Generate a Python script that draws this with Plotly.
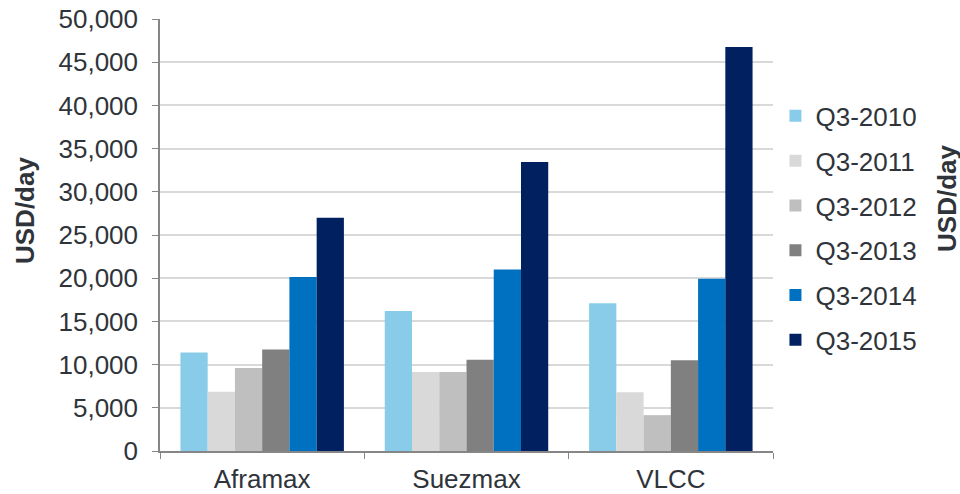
import plotly.graph_objects as go

categories = ["Aframax", "Suezmax", "VLCC"]
series_names = ["Q3-2010", "Q3-2011", "Q3-2012", "Q3-2013", "Q3-2014", "Q3-2015"]
q3_2010 = [11400, 16200, 17100]
q3_2011 = [6850, 9150, 6800]
q3_2012 = [9600, 9150, 4150]
q3_2013 = [11750, 10550, 10500]
q3_2014 = [20150, 21000, 19950]
q3_2015 = [27000, 33450, 46750]
values = [q3_2010, q3_2011, q3_2012, q3_2013, q3_2014, q3_2015]
colors = ["#89CCE9", "#D9D9D9", "#BFBFBF", "#808080", "#0070C0", "#002060"]
tick_vals = list(range(0, 50001, 5000))

font = "Liberation Sans, Arial, sans-serif"
txt = "#2F343A"

fig = go.Figure()
for i, (name, vals, c) in enumerate(zip(series_names, values, colors)):
    fig.add_trace(go.Bar(x=categories, y=vals, name=name, marker_color=c,
                         marker_line_width=0, legendgroup=f"g{i}"))

fig.update_layout(
    width=960, height=494,
    margin=dict(l=160, r=187, t=19, b=43, autoexpand=False),
    paper_bgcolor="white", plot_bgcolor="white",
    barmode="group", bargap=0.2, bargroupgap=0,
    font=dict(family=font, size=26, color=txt),
    legend=dict(x=1.004, y=0.83, xanchor="left", yanchor="top",
                font=dict(size=26, color=txt), traceorder="grouped",
                tracegroupgap=8, itemwidth=30),
    showlegend=True,
)
fig.update_xaxes(
    showline=True, linecolor="#868686", linewidth=1.5,
    ticks="outside", tickson="boundaries", ticklen=6, tickcolor="#868686",
    tickfont=dict(size=26, color=txt), showgrid=False, ticklabelstandoff=4,
)
fig.update_yaxes(
    range=[0, 50000], tickvals=tick_vals, tickformat=",",
    showline=True, linecolor="#868686", linewidth=1.5,
    ticks="outside", ticklen=6, tickcolor="#868686",
    showgrid=True, gridcolor="#D9D9D9", gridwidth=1.5,
    tickfont=dict(size=26, color=txt), ticklabelstandoff=9,
    ticklabeloverflow="allow",
)
fig.add_annotation(text="<b>USD/day</b>", xref="paper", yref="paper",
                   x=-0.2202, y=0.5556, textangle=-90, showarrow=False,
                   font=dict(size=26, color=txt), xanchor="center", yanchor="middle")
fig.add_annotation(text="<b>USD/day</b>", xref="paper", yref="paper",
                   x=1.2838, y=0.5856, textangle=-90, showarrow=False,
                   font=dict(size=26, color=txt), xanchor="center", yanchor="middle")

fig.write_html("out.html", config={"displayModeBar": False},
               post_script="document.body.style.margin='0';document.body.style.padding='0';")
